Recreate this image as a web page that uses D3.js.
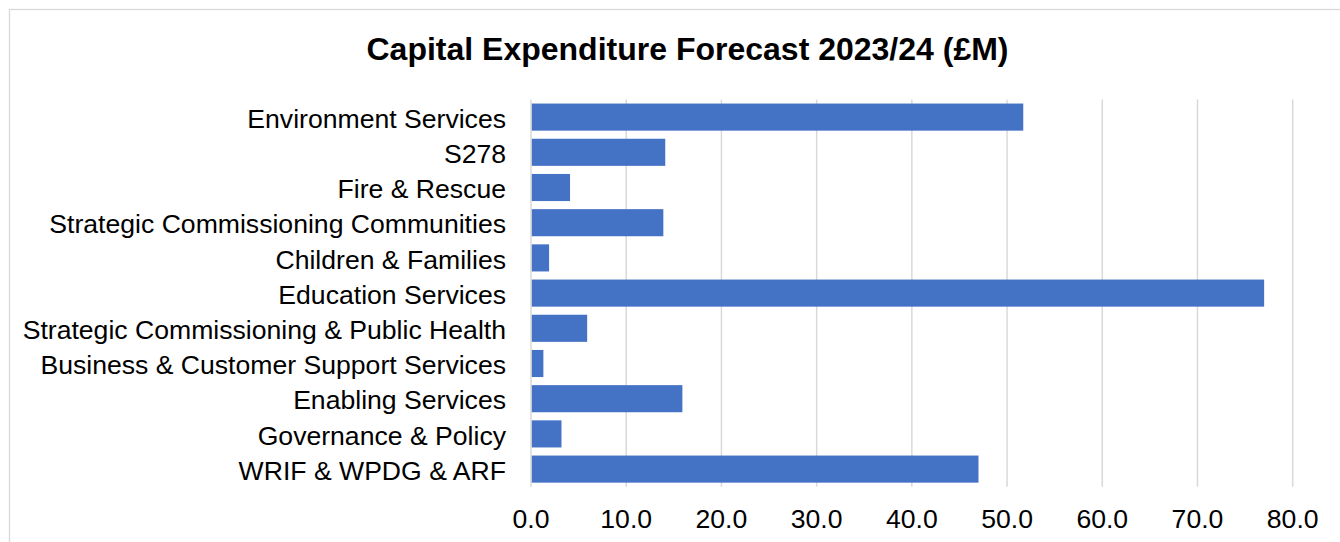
<!DOCTYPE html>
<html>
<head>
<meta charset="utf-8">
<script src="https://cdn.jsdelivr.net/npm/d3@7"></script>
<style>
  html, body { margin: 0; padding: 0; background: #fff; }
  svg { display: block; }
  text { font-family: "Liberation Sans", Arial, sans-serif; fill: #000; }
</style>
</head>
<body>
<svg id="chart" width="1340" height="542"></svg>
<script>
const title = "Capital Expenditure Forecast 2023/24 (£M)";
const categories = [
  "Environment Services",
  "S278",
  "Fire & Rescue",
  "Strategic Commissioning Communities",
  "Children & Families",
  "Education Services",
  "Strategic Commissioning & Public Health",
  "Business & Customer Support Services",
  "Enabling Services",
  "Governance & Policy",
  "WRIF & WPDG & ARF"
];
const values = [51.7, 14.1, 4.1, 13.9, 1.9, 77.0, 5.9, 1.3, 15.9, 3.2, 47.0];
const xTicks = [0, 10, 20, 30, 40, 50, 60, 70, 80];

(function () {
const svg = d3.select("#chart");

// chart border
svg.append("rect")
  .attr("x", 9.5).attr("y", 9.5)
  .attr("width", 1340).attr("height", 542)
  .attr("fill", "#fff")
  .attr("stroke", "#d9d9d9")
  .attr("stroke-width", 1.3);

const pLeft = 531, pRight = 1292.7, pTop = 99.5, pBottom = 486.7;

const x = d3.scaleLinear().domain([0, 80]).range([pLeft, pRight]);
const y = d3.scaleBand().domain(categories).range([pTop, pBottom])
  .paddingInner(0.23).paddingOuter(0.115);

// gridlines
svg.append("g").selectAll("line").data(xTicks).join("line")
  .attr("x1", d => x(d)).attr("x2", d => x(d))
  .attr("y1", pTop).attr("y2", pBottom)
  .attr("stroke", "#d9d9d9").attr("stroke-width", 1.5);

// bars
svg.append("g").selectAll("rect").data(values).join("rect")
  .attr("x", x(0) + 0.8)
  .attr("y", (d, i) => y(categories[i]))
  .attr("width", d => x(d) - x(0) - 0.8)
  .attr("height", y.bandwidth())
  .attr("fill", "#4472c4");

// category labels
svg.append("g").selectAll("text").data(categories).join("text")
  .attr("x", 506)
  .attr("y", d => y(d) + y.bandwidth() / 2)
  .attr("dy", "0.4em")
  .attr("text-anchor", "end")
  .attr("font-size", "26.6px")
  .text(d => d);

// x tick labels
svg.append("g").selectAll("text").data(xTicks).join("text")
  .attr("x", d => x(d))
  .attr("y", 528)
  .attr("text-anchor", "middle")
  .attr("font-size", "26.6px")
  .text(d => d3.format(".1f")(d));

// title
svg.append("text")
  .attr("x", 687.5).attr("y", 60)
  .attr("text-anchor", "middle")
  .attr("font-size", "32px")
  .attr("font-weight", "bold")
  .text(title);
})();
</script>
</body>
</html>
